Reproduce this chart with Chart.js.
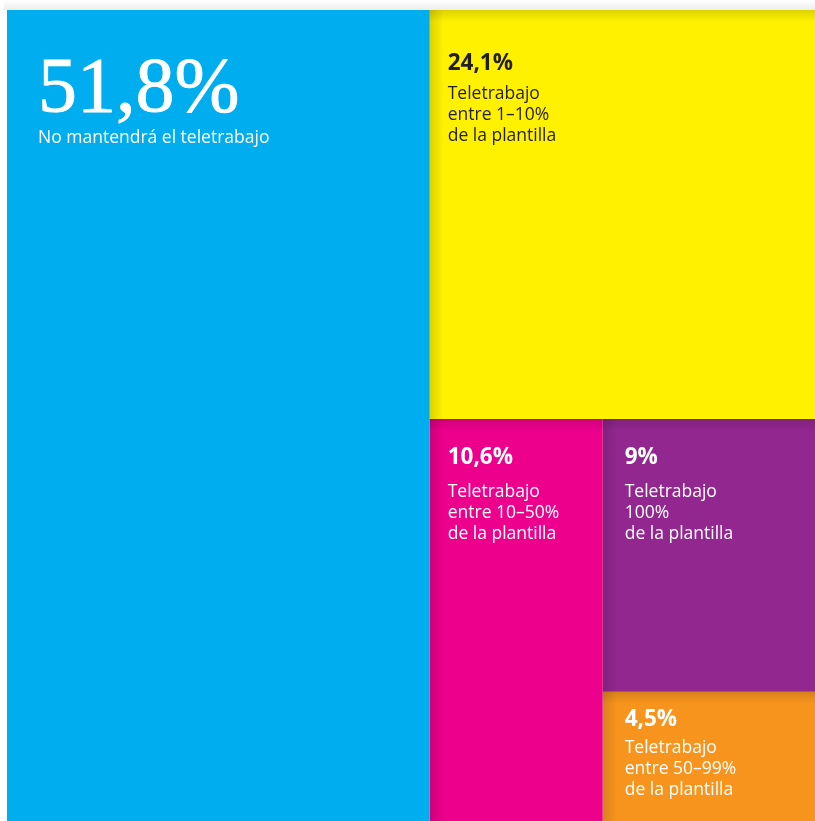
<!DOCTYPE html>
<html lang="es">
<head>
<meta charset="utf-8">
<title>Teletrabajo</title>
<script src="https://cdn.jsdelivr.net/npm/chart.js@4/dist/chart.umd.min.js"></script>
<style>
  html, body { margin: 0; padding: 0; background: #ffffff; overflow: hidden; }
  #wrap { width: 815px; height: 821px; overflow: hidden; }
</style>
</head>
<body>
<div id="wrap"><canvas id="treemap" width="823" height="828"></canvas></div>
<script>
// Reparto de empresas según el teletrabajo que mantendrán (% del total)
const categorias = [
  ["No mantendrá el teletrabajo"],
  ["Teletrabajo", "entre 1–10%", "de la plantilla"],
  ["Teletrabajo", "entre 10–50%", "de la plantilla"],
  ["Teletrabajo", "100%", "de la plantilla"],
  ["Teletrabajo", "entre 50–99%", "de la plantilla"],
];
const valores = [51.8, 24.1, 10.6, 9, 4.5];
const colores = ["#00aeef", "#fff100", "#ec008c", "#92278f", "#f7941d"];
const colorTexto = ["#ffffff", "#231f20", "#ffffff", "#ffffff", "#ffffff"];

// Posición de los textos dentro de cada celda (px desde la esquina superior izquierda)
const estiloEtiquetas = [
  { dx: 31, valorY: 101, descY: 133, grande: true },
  { dx: 18, valorY: 60, descY: 89 },
  { dx: 18, valorY: 45, descY: 78 },
  { dx: 22, valorY: 45, descY: 78 },
  { dx: 22, valorY: 34, descY: 61 },
];

const formatoPct = (v) => String(v).replace(".", ",") + "%";

// Treemap por cortes alternos: el primer valor ocupa su parte y el resto
// se reparte en el hueco que queda, cambiando de orientación cada vez.
function layout(vals, x0, y0, x1, y1, vertical) {
  if (vals.length === 0) return [];
  if (vals.length === 1) return [{ x0, y0, x1, y1 }];
  const total = vals.reduce((a, b) => a + b, 0);
  const f = vals[0] / total;
  if (vertical) {
    const xm = x0 + (x1 - x0) * f;
    return [{ x0, y0, x1: xm, y1 }, ...layout(vals.slice(1), xm, y0, x1, y1, false)];
  }
  const ym = y0 + (y1 - y0) * f;
  return [{ x0, y0, x1, y1: ym }, ...layout(vals.slice(1), x0, ym, x1, y1, true)];
}

const celdas = layout(valores, 0, 0, 100, 100, true);

const datasets = celdas.map((c, i) => ({
  label: categorias[i].join(" "),
  data: [
    { x: c.x0, y: c.y0 }, { x: c.x1, y: c.y0 },
    { x: c.x1, y: c.y1 }, { x: c.x0, y: c.y1 }, { x: c.x0, y: c.y0 },
  ],
  showLine: true,
  fill: "shape",
  backgroundColor: colores[i],
  borderWidth: 0,
  pointRadius: 0,
  pointHoverRadius: 0,
}));

const sombraMarco = {
  id: "sombraMarco",
  beforeDraw(chart) {
    const { ctx, chartArea: a } = chart;
    const g = ctx.createLinearGradient(0, 0, 0, a.top);
    g.addColorStop(0, "rgba(0,0,0,0)");
    g.addColorStop(1, "rgba(0,0,0,0.07)");
    ctx.save();
    ctx.fillStyle = g;
    ctx.fillRect(a.left - 3, 0, a.right - a.left + 3, a.top);
    ctx.restore();
  },
};

const etiquetas = {
  id: "etiquetas",
  afterDatasetsDraw(chart) {
    const { ctx, scales: { x, y } } = chart;
    ctx.save();
    celdas.forEach((c, i) => {
      const px = x.getPixelForValue(c.x0);
      const py = y.getPixelForValue(c.y0);
      const pr = x.getPixelForValue(c.x1);
      const pb = y.getPixelForValue(c.y1);
      // sombra interior en los bordes superior e izquierdo
      if (i > 0) {
        const gl = ctx.createLinearGradient(px, 0, px + 14, 0);
        gl.addColorStop(0, "rgba(0,0,0,0.13)");
        gl.addColorStop(1, "rgba(0,0,0,0)");
        ctx.fillStyle = gl;
        ctx.fillRect(px, py, 14, pb - py);
        const gt = ctx.createLinearGradient(0, py, 0, py + 12);
        gt.addColorStop(0, "rgba(0,0,0,0.13)");
        gt.addColorStop(1, "rgba(0,0,0,0)");
        ctx.fillStyle = gt;
        ctx.fillRect(px, py, pr - px, 12);
      }
      const e = estiloEtiquetas[i];
      ctx.fillStyle = colorTexto[i];
      ctx.strokeStyle = colorTexto[i];
      ctx.textBaseline = "alphabetic";
      ctx.textAlign = "left";
      const texto = formatoPct(valores[i]);
      if (e.grande) {
        ctx.font = "78px \"Liberation Serif\", \"DejaVu Serif\", serif";
        ctx.lineWidth = 0.8;
        ctx.fillText(texto, px + e.dx, py + e.valorY);
        ctx.strokeText(texto, px + e.dx, py + e.valorY);
        ctx.font = "17.5px \"Open Sans\", sans-serif";
      } else {
        ctx.font = "bold 22.5px \"Open Sans\", sans-serif";
        ctx.fillText(texto, px + e.dx, py + e.valorY);
        ctx.font = "17.5px \"Open Sans\", sans-serif";
      }
      categorias[i].forEach((linea, k) => {
        ctx.fillText(linea, px + e.dx, py + e.descY + k * 21);
      });
    });
    ctx.restore();
  },
};

new Chart(document.getElementById("treemap"), {
  type: "scatter",
  data: { datasets },
  options: {
    responsive: false,
    animation: false,
    layout: { padding: { left: 7, top: 10, right: 0, bottom: 0 } },
    scales: {
      x: { type: "linear", min: 0, max: 100, display: false },
      y: { type: "linear", min: 0, max: 100, reverse: true, display: false },
    },
    plugins: {
      legend: { display: false },
      tooltip: { enabled: false },
    },
  },
  plugins: [sombraMarco, etiquetas],
});
</script>
</body>
</html>
